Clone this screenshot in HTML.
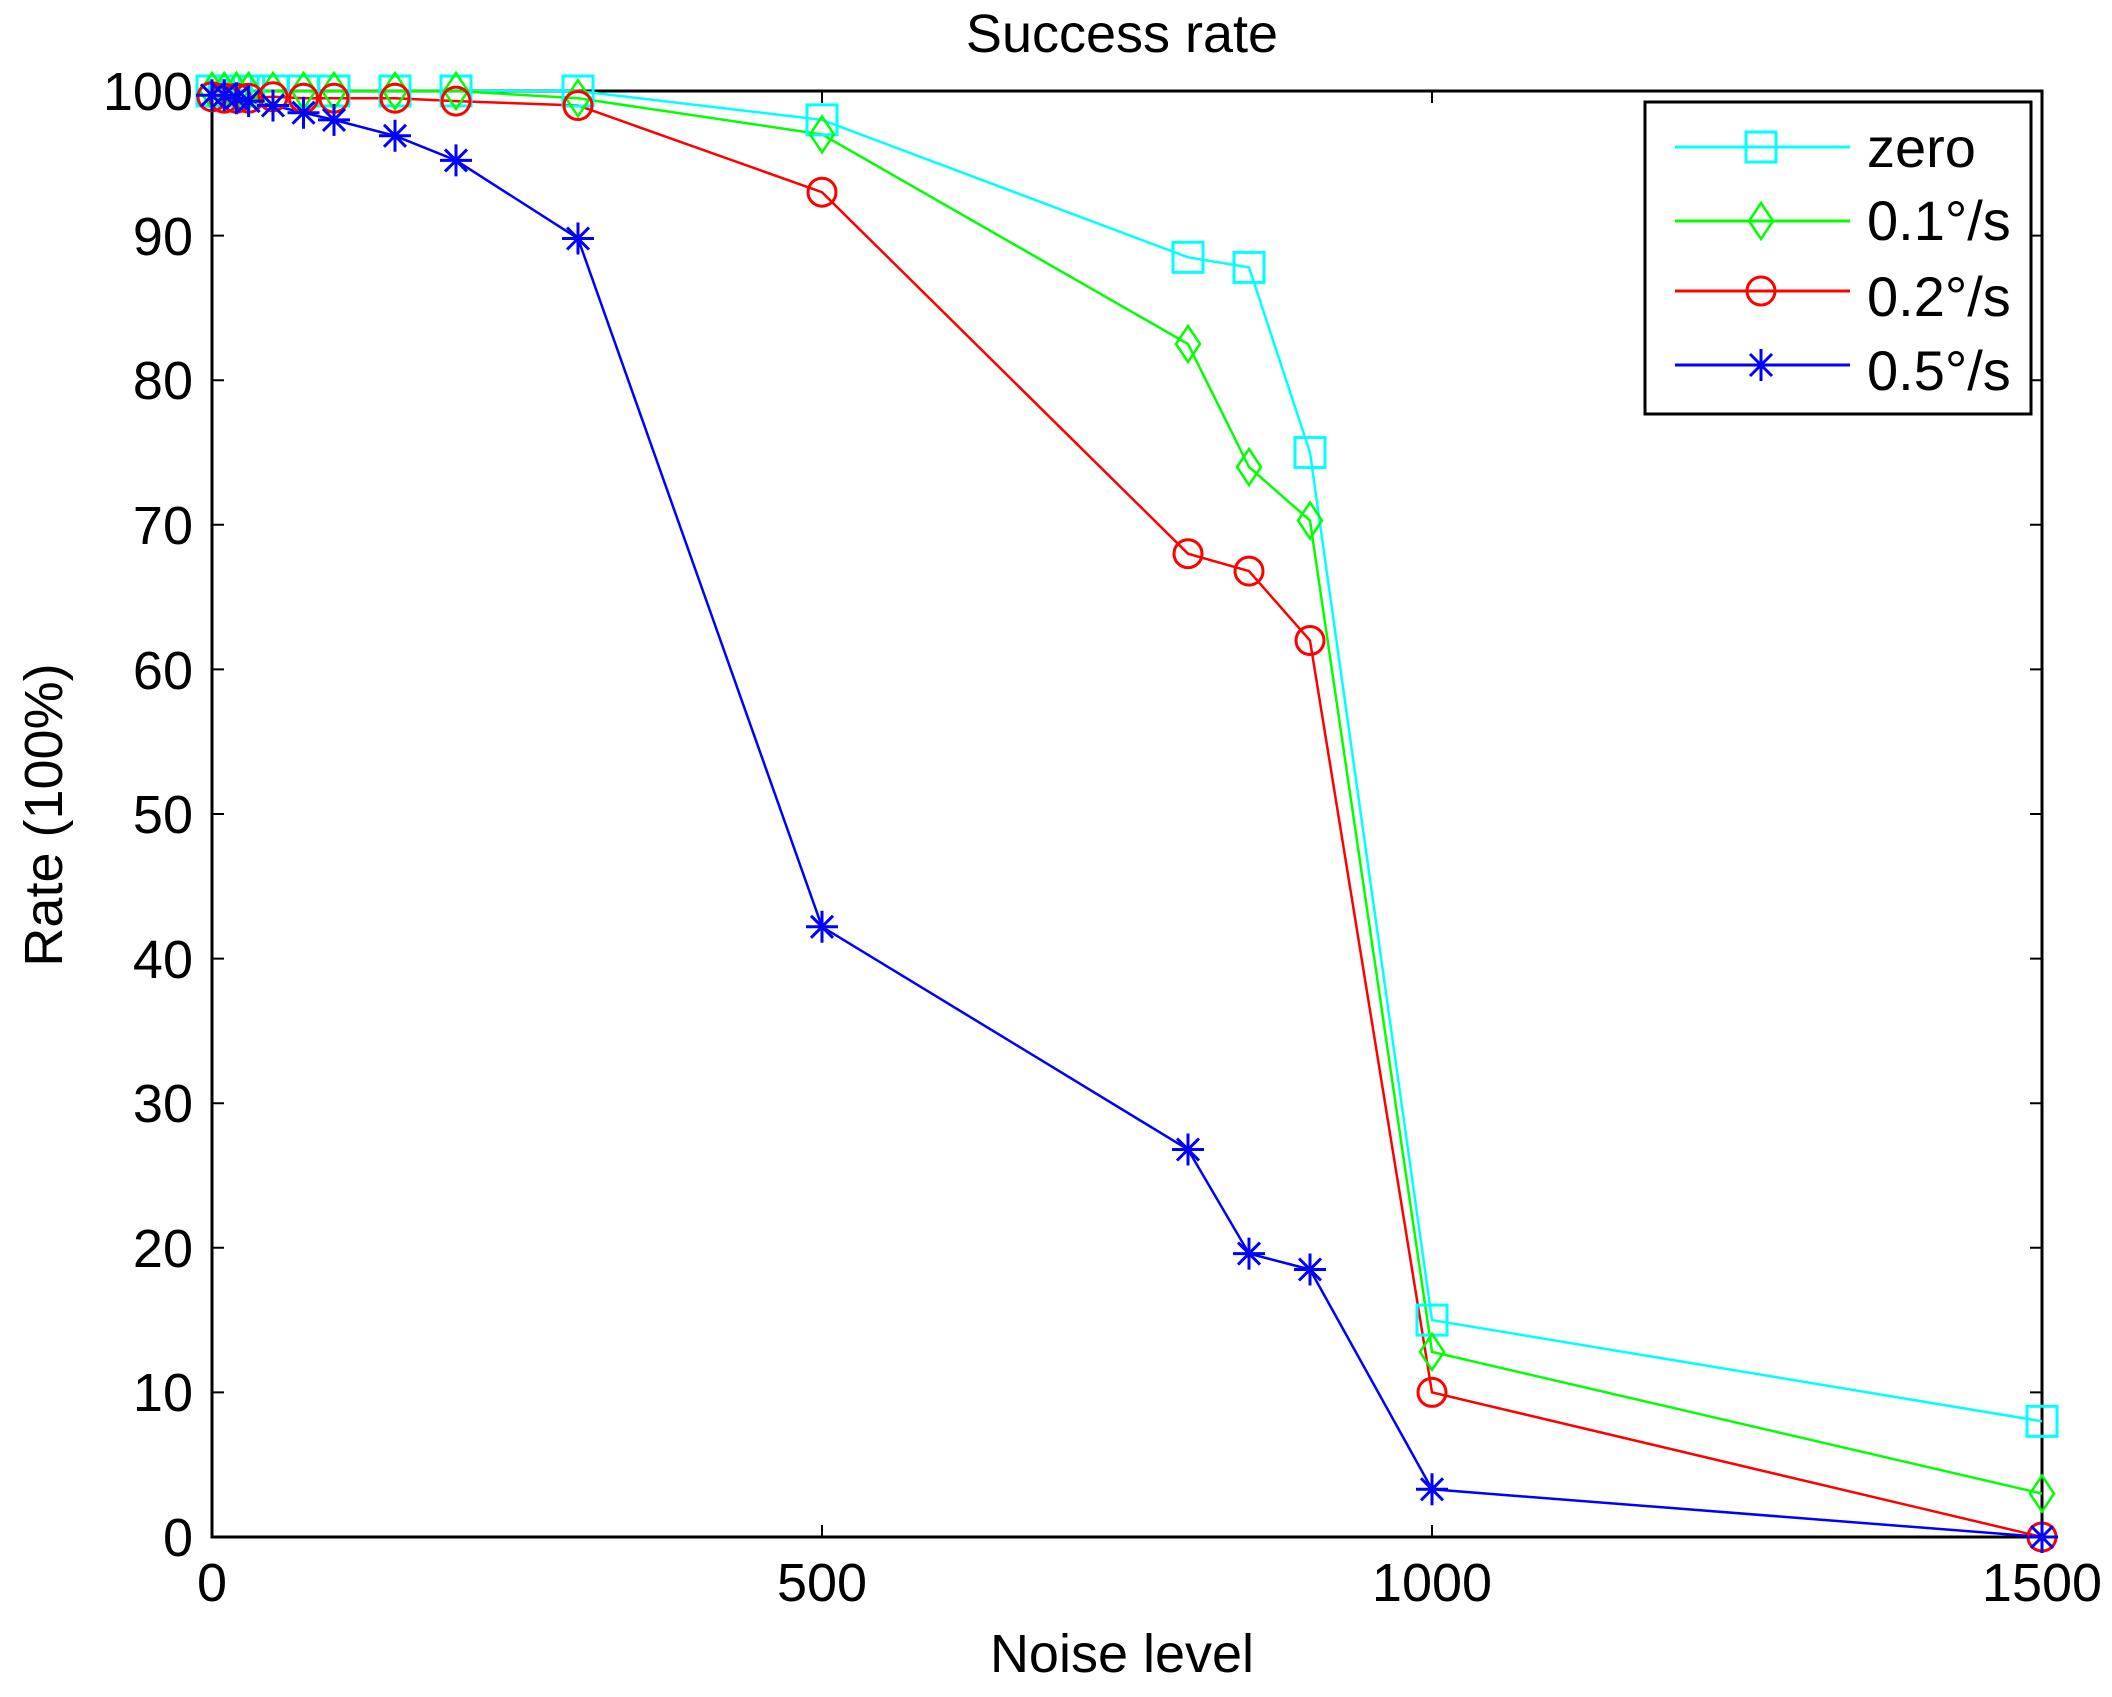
<!DOCTYPE html>
<html><head><meta charset="utf-8"><style>
html,body{margin:0;padding:0;background:#fff;}
svg{display:block;}
text{font-family:"Liberation Sans Narrow","Liberation Sans",sans-serif;fill:#000;}
</style></head><body>
<svg width="2112" height="1697" viewBox="0 0 2112 1697" xmlns="http://www.w3.org/2000/svg">
<defs>
<rect id="sq" x="-15" y="-15" width="30" height="30" fill="none" stroke="#00ffff" stroke-width="3"/>
<path id="di" d="M0,-18 L12,0 L0,18 L-12,0 Z" fill="none" stroke="#00ff00" stroke-width="2.5"/>
<circle id="ci" r="14" fill="none" stroke="#ff0000" stroke-width="3"/>
<g id="st" stroke="#0000ff" stroke-width="3"><path d="M0,-16V16M-16,0H16M-11,-11L11,11M-11,11L11,-11"/></g>
</defs>
<rect x="212" y="91" width="1830" height="1446" fill="#fff" stroke="#000" stroke-width="3"/>
<g stroke="#000" stroke-width="2">
<path d="M212,1392.4h12M212,1247.8h12M212,1103.2h12M212,958.6h12M212,814h12M212,669.4h12M212,524.8h12M212,380.2h12M212,235.6h12"/>
<path d="M2042,1392.4h-12M2042,1247.8h-12M2042,1103.2h-12M2042,958.6h-12M2042,814h-12M2042,669.4h-12M2042,524.8h-12M2042,380.2h-12M2042,235.6h-12"/>
<path d="M822,1537v-12M1432,1537v-12M822,91v12M1432,91v12"/>
</g>
<g font-size="54" text-anchor="end">
<text x="193" y="1556">0</text><text x="193" y="1411">10</text><text x="193" y="1267">20</text>
<text x="193" y="1122">30</text><text x="193" y="978">40</text><text x="193" y="833">50</text>
<text x="193" y="689">60</text><text x="193" y="544">70</text><text x="193" y="399">80</text>
<text x="193" y="255">90</text><text x="193" y="110">100</text>
</g>
<g font-size="54" text-anchor="middle">
<text x="212" y="1601">0</text><text x="822" y="1601">500</text><text x="1432" y="1601">1000</text><text x="2042" y="1601">1500</text>
<text x="1122" y="1672">Noise level</text>
<text x="1122" y="52">Success rate</text>
<text transform="translate(62,815) rotate(-90)">Rate (100%)</text>
</g>
<g fill="none" stroke-width="2.5">
<polyline stroke="#00ffff" points="212,91 224.2,91 236.4,91 248.6,91 273,91 303.5,91 334,91 395,91 456,91 578,91 822,119.9 1188,257.3 1249,267.4 1310,452.5 1432,1320.1 2042,1421.3"/>
<polyline stroke="#00ff00" points="212,91 224.2,91 236.4,91 248.6,91 273,91 303.5,91 334,91 395,91 456,91 578,98.2 822,134.4 1188,344 1249,467 1310,520.5 1432,1351.9 2042,1493.6"/>
<polyline stroke="#ff0000" points="212,96.8 224.2,98.2 236.4,98.2 248.6,98.2 273,96.8 303.5,98.2 334,98.2 395,98.2 456,101.1 578,105.5 822,192.2 1188,553.7 1249,571.1 1310,640.5 1432,1392.4 2042,1537"/>
<polyline stroke="#0000ff" points="212,95.3 224.2,95.3 236.4,98.2 248.6,101.1 273,105.5 303.5,112.7 334,119.9 395,135.8 456,160.4 578,238.5 822,926.8 1188,1149.5 1249,1253.6 1310,1269.5 1432,1489.3 2042,1537"/>
</g>
<g>
<use href="#sq" x="212" y="91"/><use href="#sq" x="224.2" y="91"/><use href="#sq" x="236.4" y="91"/><use href="#sq" x="248.6" y="91"/><use href="#sq" x="273" y="91"/><use href="#sq" x="303.5" y="91"/><use href="#sq" x="334" y="91"/><use href="#sq" x="395" y="91"/><use href="#sq" x="456" y="91"/><use href="#sq" x="578" y="91"/><use href="#sq" x="822" y="119.9"/><use href="#sq" x="1188" y="257.3"/><use href="#sq" x="1249" y="267.4"/><use href="#sq" x="1310" y="452.5"/><use href="#sq" x="1432" y="1320.1"/><use href="#sq" x="2042" y="1421.3"/>
<use href="#di" x="212" y="91"/><use href="#di" x="224.2" y="91"/><use href="#di" x="236.4" y="91"/><use href="#di" x="248.6" y="91"/><use href="#di" x="273" y="91"/><use href="#di" x="303.5" y="91"/><use href="#di" x="334" y="91"/><use href="#di" x="395" y="91"/><use href="#di" x="456" y="91"/><use href="#di" x="578" y="98.2"/><use href="#di" x="822" y="134.4"/><use href="#di" x="1188" y="344"/><use href="#di" x="1249" y="467"/><use href="#di" x="1310" y="520.5"/><use href="#di" x="1432" y="1351.9"/><use href="#di" x="2042" y="1493.6"/>
<use href="#ci" x="212" y="96.8"/><use href="#ci" x="224.2" y="98.2"/><use href="#ci" x="236.4" y="98.2"/><use href="#ci" x="248.6" y="98.2"/><use href="#ci" x="273" y="96.8"/><use href="#ci" x="303.5" y="98.2"/><use href="#ci" x="334" y="98.2"/><use href="#ci" x="395" y="98.2"/><use href="#ci" x="456" y="101.1"/><use href="#ci" x="578" y="105.5"/><use href="#ci" x="822" y="192.2"/><use href="#ci" x="1188" y="553.7"/><use href="#ci" x="1249" y="571.1"/><use href="#ci" x="1310" y="640.5"/><use href="#ci" x="1432" y="1392.4"/><use href="#ci" x="2042" y="1537"/>
<use href="#st" x="212" y="95.3"/><use href="#st" x="224.2" y="95.3"/><use href="#st" x="236.4" y="98.2"/><use href="#st" x="248.6" y="101.1"/><use href="#st" x="273" y="105.5"/><use href="#st" x="303.5" y="112.7"/><use href="#st" x="334" y="119.9"/><use href="#st" x="395" y="135.8"/><use href="#st" x="456" y="160.4"/><use href="#st" x="578" y="238.5"/><use href="#st" x="822" y="926.8"/><use href="#st" x="1188" y="1149.5"/><use href="#st" x="1249" y="1253.6"/><use href="#st" x="1310" y="1269.5"/><use href="#st" x="1432" y="1489.3"/><use href="#st" x="2042" y="1537"/>
</g>
<rect x="1645" y="102" width="386" height="312" fill="#fff" stroke="#000" stroke-width="3"/>
<g stroke-width="3">
<line x1="1675" y1="147" x2="1850" y2="147" stroke="#00ffff"/>
<line x1="1675" y1="221" x2="1850" y2="221" stroke="#00ff00"/>
<line x1="1675" y1="291" x2="1850" y2="291" stroke="#ff0000"/>
<line x1="1675" y1="365" x2="1850" y2="365" stroke="#0000ff"/>
</g>
<use href="#sq" x="1761" y="147"/><use href="#di" x="1761" y="221"/><use href="#ci" x="1761" y="291"/><use href="#st" x="1761" y="365"/>
<g font-size="56">
<text x="1867" y="167">zero</text>
<text x="1867" y="240">0.1°/s</text>
<text x="1867" y="316">0.2°/s</text>
<text x="1867" y="390">0.5°/s</text>
</g>
</svg>
</body></html>
